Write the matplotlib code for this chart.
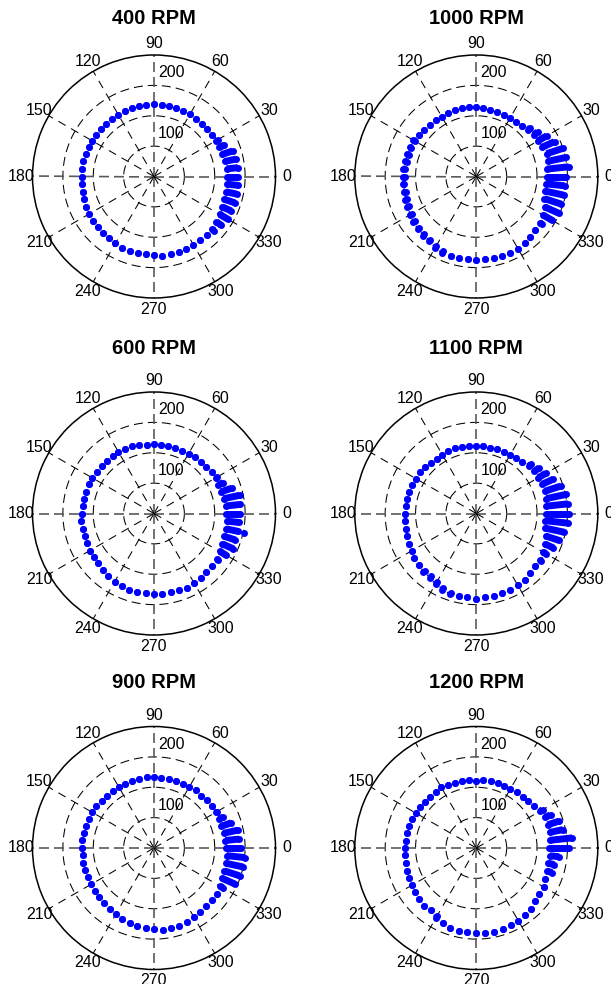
import numpy as np
import matplotlib
matplotlib.use("Agg")
import matplotlib.pyplot as plt
from matplotlib.transforms import offset_copy

plt.rcParams['font.family'] = ['Liberation Sans', 'DejaVu Sans']
plt.rcParams['lines.scale_dashes'] = False

# ---------------- data ----------------
theta_deg = np.arange(0, 360, 6)          # measurement angles (deg)
angle_ticks = [0, 30, 60, 90, 120, 150, 180, 210, 240, 270, 300, 330]
radius_ticks = [100, 200]
titles = ['400 RPM', '1000 RPM', '600 RPM', '1100 RPM', '900 RPM', '1200 RPM']

r_in_400 = [170,170,169,168,168,168,167,167,167,167,168,168,168,169,169,
            169,169,168,168,168,167,167,167,167,167,168,168,168,169,169,
            169,169,170,171,172,173,174,174,175,176,177,178,179,179,179,
            180,181,181,181,180,180,180,180,179,177,175,173,172,171,170]
spread_400 = [19,19,19,18,9,3,0,0,0,0,0,0,0,0,0,
              0,0,0,0,0,0,0,0,0,0,0,0,0,0,0,
              0,0,0,0,0,0,0,0,0,0,0,0,0,0,0,
              0,0,0,0,0,0,0,0,4,10,15,16,18,18,19]

r_in_1000 = [166,167,170,172,168,167,167,165,162,161,161,161,161,162,163,
             164,165,165,165,164,164,164,164,165,166,167,167,167,167,168,
             168,169,169,170,171,173,175,177,178,179,182,185,187,187,187,
             187,187,187,187,188,187,185,183,181,179,177,173,168,166,165]
spread_1000 = [32,36,31,28,23,17,8,5,0,0,0,0,0,0,0,
               0,0,0,0,0,0,0,0,0,0,3,3,3,3,3,
               3,3,3,3,3,3,3,3,3,3,3,3,0,0,0,
               0,0,0,0,0,0,0,0,0,4,17,26,29,31,31]

r_in_600 = [169,169,167,166,166,167,167,165,165,164,164,163,164,164,164,
            164,164,165,166,166,167,166,166,166,166,167,168,167,168,168,
            169,170,170,170,171,172,173,173,175,178,180,181,182,182,182,
            183,183,182,182,184,182,181,179,178,178,175,173,172,171,170]
spread_600 = [23,23,27,19,9,2,0,0,0,0,0,0,0,0,0,
              0,0,0,0,0,0,0,0,0,0,0,0,0,0,0,
              0,0,0,0,0,0,0,0,0,0,0,0,0,0,0,
              0,0,0,0,0,0,0,0,0,2,11,20,19,21,21]

r_in_1100 = [164,166,168,169,169,168,168,166,163,162,161,161,161,161,161,
             161,162,162,163,163,162,161,162,164,165,165,166,167,167,167,
             168,168,169,170,172,173,176,176,177,178,181,184,187,189,189,
             190,189,188,188,188,186,185,182,180,179,177,174,170,166,164]
spread_1100 = [39,36,33,27,20,14,10,5,0,0,0,0,0,0,0,
               0,0,0,0,0,0,0,0,0,0,0,0,0,0,0,
               0,0,0,0,0,0,0,0,3,3,3,3,3,0,0,
               0,0,0,0,0,0,0,0,0,3,6,15,23,32,38]

r_in_900 = [169,168,167,166,167,168,168,167,166,167,166,166,166,166,166,
            167,167,166,166,166,165,165,165,165,167,167,167,168,168,169,
            169,168,169,169,169,170,170,171,172,174,176,178,180,182,182,
            184,185,185,185,184,182,180,179,178,178,176,173,172,171,170]
spread_900 = [24,23,24,18,8,2,0,0,0,0,0,0,0,0,0,
              0,0,0,0,0,0,0,0,0,0,0,0,0,0,0,
              0,0,0,0,0,0,0,0,0,0,0,0,0,0,0,
              0,0,0,0,0,0,0,0,0,0,5,23,26,29,30]

r_in_1200 = [170,172,174,174,174,172,168,165,164,163,162,162,163,163,162,
             161,162,163,163,164,165,164,164,164,164,165,166,167,166,167,
             168,168,169,170,171,173,174,176,178,177,179,185,189,189,189,
             190,190,191,191,189,188,186,185,180,178,178,174,172,171,172]
spread_1200 = [32,37,22,19,10,4,0,0,0,0,0,0,0,0,0,
               0,0,0,0,0,0,0,0,0,0,0,0,0,0,0,
               0,0,0,0,0,0,0,0,0,0,4,0,0,0,0,
               0,0,0,0,0,0,0,0,0,0,0,0,9,10,15]

# isolated extra points (angle deg, radius)
extra_600_theta = [348]
extra_600_r = [201]

panels = [
    (titles[0], r_in_400, spread_400, [], []),
    (titles[1], r_in_1000, spread_1000, [], []),
    (titles[2], r_in_600, spread_600, extra_600_theta, extra_600_r),
    (titles[3], r_in_1100, spread_1100, [], []),
    (titles[4], r_in_900, spread_900, [], []),
    (titles[5], r_in_1200, spread_1200, [], []),
]

# ---------------- layout ----------------
W, H = 611, 984
R_PX = 121.5
col_x = [154.0, 476.3]
row_y = [176.5, 513.5, 848.0]
title_base_y = [24.0, 354.0, 688.0]
RMIN, RMAX = 50, 250
FS = 11.5
MS = 5.0

fig = plt.figure(figsize=(W / 100, H / 100), dpi=100)
blue = '#0000ff'

for i, (title, r_in, spread, ex_t, ex_r) in enumerate(panels):
    row, col = divmod(i, 2)
    cx, cy = col_x[col], row_y[row]
    ax = fig.add_axes([(cx - R_PX) / W, (H - cy - R_PX) / H,
                       2 * R_PX / W, 2 * R_PX / H], projection='polar')
    ax.set_ylim(RMIN, RMAX)
    ax.set_xticks([])
    ax.set_yticks([])
    ax.grid(False)
    ax.spines['polar'].set_linewidth(1.1)
    ax.spines['polar'].set_color('black')

    # dashed circles
    tt = np.linspace(0, 2 * np.pi, 400)
    for rc in (100, 150, 200):
        ax.plot(tt, np.full_like(tt, rc), color='black', lw=0.75,
                dashes=(6.5, 3.6), zorder=1)
    # spokes
    for a in angle_ticks:
        th = np.deg2rad(a)
        if a % 90 == 0:
            ax.plot([th, th], [RMIN, RMAX], color='#5a5a5a', lw=1.2,
                    dashes=(7.2, 3.6), zorder=1)
        else:
            ax.plot([th, th], [RMIN, RMAX], color='black', lw=0.75,
                    dashes=(6.0, 4.5), zorder=1)
        ax.text(th, 268.5, str(a), ha='center', va='center', fontsize=FS,
                clip_on=False)

    # radius labels
    tr = offset_copy(ax.transData, fig=fig, x=4, y=8, units='dots')
    for rv in radius_ticks:
        ax.text(np.pi / 2, rv, str(rv), transform=tr, ha='left',
                va='baseline', fontsize=FS, clip_on=False)

    # data
    th = np.deg2rad(theta_deg)
    rin = np.array(r_in, dtype=float)
    rout = rin + np.array(spread, dtype=float)
    ax.vlines(th, rin, rout, colors=blue, lw=MS, zorder=3)
    ax.plot(th, rin, 'o', color=blue, ms=MS, mew=0, zorder=4)
    ax.plot(th, rout, 'o', color=blue, ms=MS, mew=0, zorder=4)
    if ex_t:
        ax.plot(np.deg2rad(ex_t), ex_r, 'o', color=blue, ms=MS, mew=0,
                zorder=4)

    fig.text(cx / W, 1 - title_base_y[row] / H, title, ha='center',
             va='baseline', fontsize=14.5, fontweight='bold')

fig.savefig('out.png', dpi=100)
